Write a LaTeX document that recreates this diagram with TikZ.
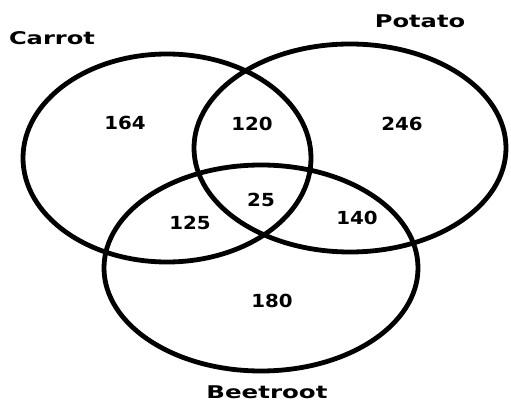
\documentclass[tikz,border=0pt]{standalone}
\usepackage{fontspec}
\usepackage{graphicx}
\newfontfamily\vennfont{DejaVu Sans}
\newcommand{\widetext}[2]{\scalebox{#1}[1]{#2}}
\begin{document}
\begin{tikzpicture}[x=1pt,y=-1pt,
  setring/.style={draw=black,line width=4.8pt},
  setname/.style={anchor=base,inner sep=0pt,font=\vennfont\bfseries\fontsize{17.5}{18}\selectfont},
  count/.style={anchor=base,inner sep=0pt,font=\vennfont\bfseries\fontsize{18}{18}\selectfont}]
\useasboundingbox (0,0) rectangle (511,403);
% the three sets
\draw[setring] (167,158) ellipse [x radius=144, y radius=104];
\draw[setring] (350,148) ellipse [x radius=156, y radius=104];
\draw[setring] (261,268) ellipse [x radius=157, y radius=103];
% set names
\node[setname] (carrot) at (52,45) {\widetext{1.38}{Carrot}};
\node[setname] (potato) at (420,28) {\widetext{1.38}{Potato}};
\node[setname] (beetroot) at (267,398) {\widetext{1.4}{Beetroot}};
% region counts
\node[count] (c) at (125,130) {\widetext{1.1}{164}};
\node[count] (cp) at (252,130.5) {\widetext{1.1}{120}};
\node[count] (p) at (402,130.5) {\widetext{1.1}{246}};
\node[count] (cpb) at (261,206.5) {\widetext{1.1}{25}};
\node[count] (cb) at (190,229.5) {\widetext{1.1}{125}};
\node[count] (pb) at (357,224.5) {\widetext{1.1}{140}};
\node[count] (b) at (272,307.5) {\widetext{1.1}{180}};
\end{tikzpicture}
\end{document}
